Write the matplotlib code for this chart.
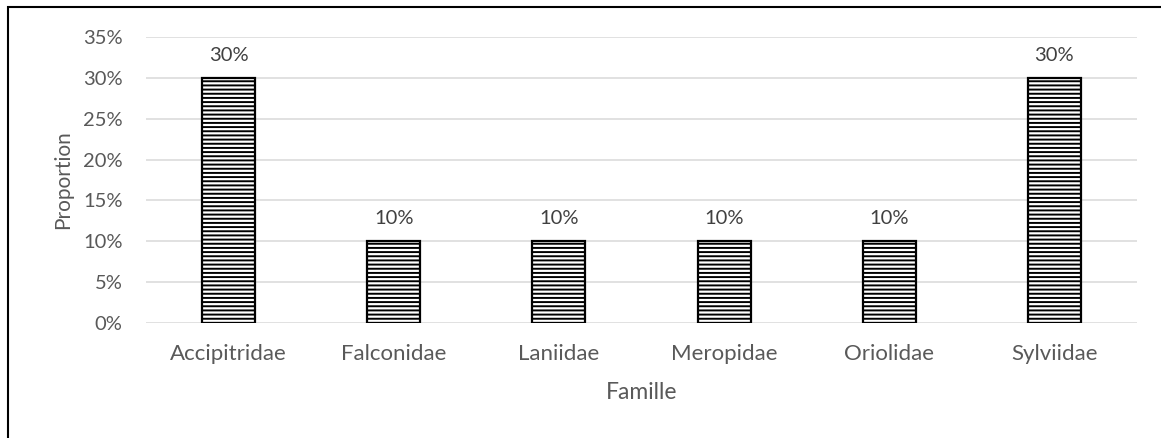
import matplotlib
matplotlib.use("Agg")
import matplotlib.pyplot as plt
from matplotlib.patches import Rectangle

familles = ["Accipitridae", "Falconidae", "Laniidae", "Meropidae", "Oriolidae", "Sylviidae"]
proportions = [0.30, 0.10, 0.10, 0.10, 0.10, 0.30]
yticks = [0, 0.05, 0.10, 0.15, 0.20, 0.25, 0.30, 0.35]

W, H = 1161, 438
plt.rcParams["font.family"] = ["Lato", "DejaVu Sans"]
plt.rcParams["hatch.color"] = "#555555"
plt.rcParams["hatch.linewidth"] = 1.4

fig = plt.figure(figsize=(W / 100, H / 100), dpi=100)
ax = fig.add_axes([146 / W, (H - 323) / H, (1137 - 146) / W, (323 - 37) / H])

txt = "#595959"
x = range(len(familles))
ax.bar(x, proportions, width=0.32, color="white", edgecolor="black",
       linewidth=1.6, hatch="----", zorder=3)

for xi, v in zip(x, proportions):
    ax.annotate(f"{v:.0%}", (xi, v), xytext=(0, 10), textcoords="offset points",
                ha="center", va="bottom", fontsize=14.5, color="#404040")

ax.set_xlim(-0.5, len(familles) - 0.5)
ax.set_ylim(0, 0.35)
ax.set_yticks(yticks)
ax.set_yticklabels([f"{t:.0%}" for t in yticks], fontsize=14.5)
ax.set_xticks(list(x))
ax.set_xticklabels(familles, fontsize=16)
ax.tick_params(axis="both", length=0, labelcolor=txt)
ax.tick_params(axis="y", pad=17)
ax.tick_params(axis="x", pad=15)
ax.grid(axis="y", color="#d9d9d9", linewidth=1.1, zorder=0)
for s in ax.spines.values():
    s.set_visible(False)

ax.set_ylabel("Proportion", fontsize=15, color=txt, labelpad=7)
ax.set_xlabel("Famille", fontsize=16.5, color=txt, labelpad=13)

# outer chart frame
fig.patches.append(Rectangle((8 / W, -0.05), 1.2, (H - 7) / H + 0.05,
                             transform=fig.transFigure, fill=False,
                             edgecolor="black", linewidth=1.5))

fig.savefig("out.png", dpi=100)
